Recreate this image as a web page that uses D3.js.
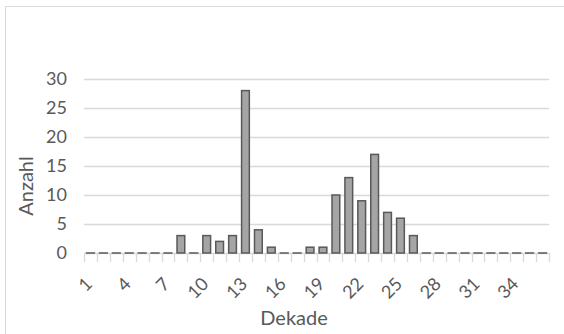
<!DOCTYPE html>
<html><head><meta charset="utf-8">
<script src="https://cdn.jsdelivr.net/npm/d3@7"></script>
<style>body{margin:0;background:#fff}svg{display:block}text{font-family:Lato,"Open Sans",sans-serif;fill:#595959}</style>
</head><body><svg id="c" width="564" height="334"></svg>
<script>
const categories = d3.range(1, 37).map(String);
const values = [0,0,0,0,0,0,0,3,0,3,2,3,28,4,1,0,0,1,1,10,13,9,17,7,6,3,0,0,0,0,0,0,0,0,0,0];
const yTicks = [0,5,10,15,20,25,30];
const xLabelEvery = 3;

const svg = d3.select("#c");
svg.append("rect").attr("x",5.5).attr("y",6.5).attr("width",600).attr("height",400)
  .attr("fill","#fff").attr("stroke","#d9d9d9").attr("stroke-width",1);

const x = d3.scaleBand().domain(categories).range([84,549]).paddingInner(0.4).paddingOuter(0.2);
const y = d3.scaleLinear().domain([0,30]).range([253,79]);

// gridlines
svg.append("g").selectAll("line").data(yTicks.filter(d=>d>0)).join("line")
  .attr("x1",84).attr("x2",549).attr("y1",d=>Math.round(y(d))+0.5).attr("y2",d=>Math.round(y(d))+0.5)
  .attr("stroke","#d9d9d9").attr("stroke-width",1.3);

// y labels
svg.append("g").selectAll("text").data(yTicks).join("text")
  .attr("x",67).attr("y",d=>y(d)).attr("dy","0.36em").attr("text-anchor","end")
  .attr("font-size",18).text(d=>d);

// x axis line & ticks
const step = x.step();
const x0 = 84;
svg.append("line").attr("x1",84).attr("x2",549).attr("y1",253.5).attr("y2",253.5)
  .attr("stroke","#d9d9d9").attr("stroke-width",1.3);
svg.append("g").selectAll("line").data(d3.range(categories.length+1)).join("line")
  .attr("x1",i=>Math.round(x0+i*(465/categories.length))+0.5).attr("x2",i=>Math.round(x0+i*(465/categories.length))+0.5)
  .attr("y1",253).attr("y2",262).attr("stroke","#d9d9d9").attr("stroke-width",1.3);

// bars
const bw = x.bandwidth();
svg.append("g").selectAll("rect").data(values.map((v,i)=>({c:categories[i],v})).filter(d=>d.v>0)).join("rect")
  .attr("x",d=>x(d.c)).attr("y",d=>y(d.v)).attr("width",bw).attr("height",d=>y(0)-y(d.v))
  .attr("fill","#a5a5a5").attr("stroke","#595959").attr("stroke-width",1.5);
svg.append("g").selectAll("line").data(values.map((v,i)=>({c:categories[i],v})).filter(d=>d.v===0)).join("line")
  .attr("x1",d=>x(d.c)-0.75).attr("x2",d=>x(d.c)+bw+0.75).attr("y1",253).attr("y2",253)
  .attr("stroke","#595959").attr("stroke-width",1.5);

// x labels
svg.append("g").selectAll("text").data(categories.filter((c,i)=>i%xLabelEvery===0)).join("text")
  .attr("text-anchor","end").attr("font-size",18)
  .attr("transform",d=>`translate(${x(d)+bw/2+3},285) rotate(-45)`).text(d=>d);

// axis titles
svg.append("text").attr("x",294).attr("y",325).attr("text-anchor","middle").attr("font-size",20).text("Dekade");
svg.append("text").attr("transform","translate(33,186) rotate(-90)").attr("text-anchor","middle").attr("font-size",20).text("Anzahl");
</script></body></html>
